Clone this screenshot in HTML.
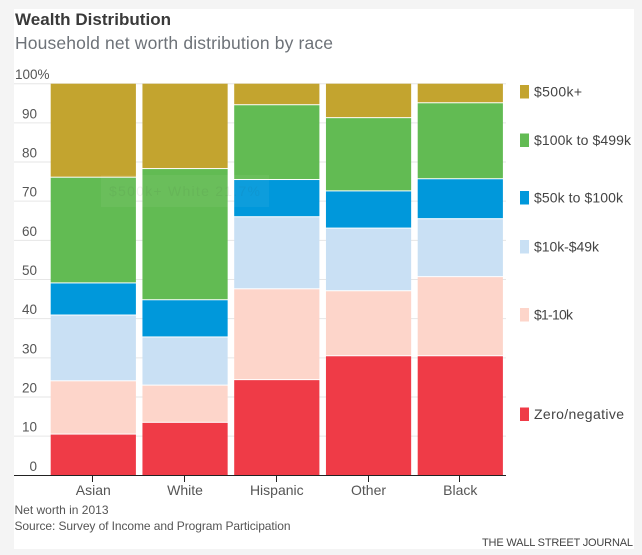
<!DOCTYPE html>
<html lang="en">
<head>
<meta charset="utf-8">
<title>Wealth Distribution</title>
<style>
html,body{margin:0;padding:0;background:#f4f4f4;}
body{width:642px;height:555px;overflow:hidden;}
svg{display:block;font-family:"Liberation Sans",sans-serif;}
</style>
</head>
<body>
<svg id="chart" width="642" height="555" viewBox="0 0 642 555" xmlns="http://www.w3.org/2000/svg">
<rect x="14" y="9" width="620" height="540" fill="#ffffff"/>
<text x="15" y="25" font-size="17" font-weight="bold" fill="#3a3a3a" textLength="156" lengthAdjust="spacing">Wealth Distribution</text>
<text x="15" y="49" font-size="17.5" fill="#6d7278" textLength="318" lengthAdjust="spacing">Household net worth distribution by race</text>
<g id="grid"></g>
<g id="yticks"></g>
<g id="bars"></g>
<rect x="101" y="175" width="168" height="32" fill="#ffffff" fill-opacity="0.05"/>
<text x="109" y="196" font-size="14" fill="#333333" fill-opacity="0.06" textLength="151" lengthAdjust="spacing">$500k+  White  21.7%</text>
<g id="xaxis"></g>
<g id="legend"></g>
<text x="14.5" y="514" font-size="12" fill="#555555" textLength="94" lengthAdjust="spacing">Net worth in 2013</text>
<text x="14.5" y="530" font-size="12" fill="#555555" textLength="276" lengthAdjust="spacing">Source: Survey of Income and Program Participation</text>
<text x="482" y="546" font-size="11" fill="#444444" textLength="151" lengthAdjust="spacing">THE WALL STREET JOURNAL</text>
</svg>
<script>
var categories = ["Asian", "White", "Hispanic", "Other", "Black"];
var seriesNames = ["Zero/negative", "$1-10k", "$10k-$49k", "$50k to $100k", "$100k to $499k", "$500k+"];
var zeroNegative = [10.4, 13.4, 24.3, 30.4, 30.4];
var oneToTenK = [13.6, 9.5, 23.2, 16.6, 20.2];
var tenTo49K = [16.8, 12.3, 18.4, 16.0, 14.8];
var fiftyTo100K = [8.2, 9.5, 9.5, 9.5, 10.2];
var hundredTo499K = [27.0, 33.5, 19.1, 18.7, 19.4];
var fiveHundredKPlus = [24.0, 21.8, 5.5, 8.8, 5.0];
var yTicks = [0, 10, 20, 30, 40, 50, 60, 70, 80, 90, 100];

var seriesValues = [zeroNegative, oneToTenK, tenTo49K, fiftyTo100K, hundredTo499K, fiveHundredKPlus];
var seriesColors = ["#ef3b47", "#fdd5ca", "#c9e0f4", "#0098db", "#62bb53", "#c3a42f"];
var seriesKeys = ["zero-negative", "one-to-10k", "10k-to-49k", "50k-to-100k", "100k-to-499k", "500k-plus"];
var legendCenters = [414, 314.5, 246.5, 197.5, 140, 91.5];
var legendWidths = [90, 39, 65, 89, 97, 48];
var NS = "http://www.w3.org/2000/svg";

function yScale(v) { return 475.3 - v * 3.916; }
function xLeft(i) { return 50.7 + i * 91.75; }
var BAR_W = 85.2;

function make(tag, attrs, parent, text) {
  var el = document.createElementNS(NS, tag);
  for (var k in attrs) { el.setAttribute(k, attrs[k]); }
  if (text !== undefined) { el.textContent = text; }
  parent.appendChild(el);
  return el;
}

var grid = document.getElementById("grid");
var yLabels = document.getElementById("yticks");
yTicks.forEach(function (t) {
  if (t > 0) {
    var line = make("line", {x1: 14, x2: 506, y1: yScale(t), y2: yScale(t), stroke: "#e6e6e6", "stroke-width": 1}, grid);
    
    
  }
  var isTop = t === 100;
  var label = make("text", {
    x: isTop ? 15 : 37,
    y: yScale(t) - 4.5,
    "font-size": 13.5,
    fill: "#555555",
    "text-anchor": isTop ? "start" : "end"
  }, yLabels, isTop ? "100%" : String(t));
  
  
});

var bars = document.getElementById("bars");
categories.forEach(function (cat, i) {
  var cum = 0;
  seriesValues.forEach(function (vals, s) {
    var y0 = yScale(cum);
    var y1 = yScale(cum + vals[i]);
    cum += vals[i];
    var bottom = s === 0 ? y0 : y0 - 1;
    var r = make("rect", {x: xLeft(i), y: y1, width: BAR_W, height: bottom - y1, fill: seriesColors[s]}, bars);
    
    
    r.setAttribute('data-series', seriesKeys[s]);
    r.setAttribute('data-category', cat);
  });
});

var xaxis = document.getElementById("xaxis");
var axisLine = make("line", {x1: 14, x2: 506, y1: 475.5, y2: 475.5, stroke: "#222222", "stroke-width": 1}, xaxis);


categories.forEach(function (cat, i) {
  var cx = xLeft(i) + BAR_W / 2;
  var tick = make("line", {x1: Math.round(cx) - 0.5, x2: Math.round(cx) - 0.5, y1: 475.5, y2: 482, stroke: "#222222", "stroke-width": 1}, xaxis);
  
  
  var label = make("text", {x: cx, y: 495, "font-size": 14, fill: "#555555", "text-anchor": "middle"}, xaxis, cat);
  
  
});

var legend = document.getElementById("legend");
seriesNames.forEach(function (name, s) {
  var c = legendCenters[s];
  var sw = make("rect", {x: 520, y: c - 6.5, width: 9, height: 13.5, fill: seriesColors[s]}, legend);
  
  
  var label = make("text", {x: 534, y: c + 5, "font-size": 14, fill: "#444444", textLength: legendWidths[s], lengthAdjust: "spacing"}, legend, name);
  
  
});
</script>
</body>
</html>
